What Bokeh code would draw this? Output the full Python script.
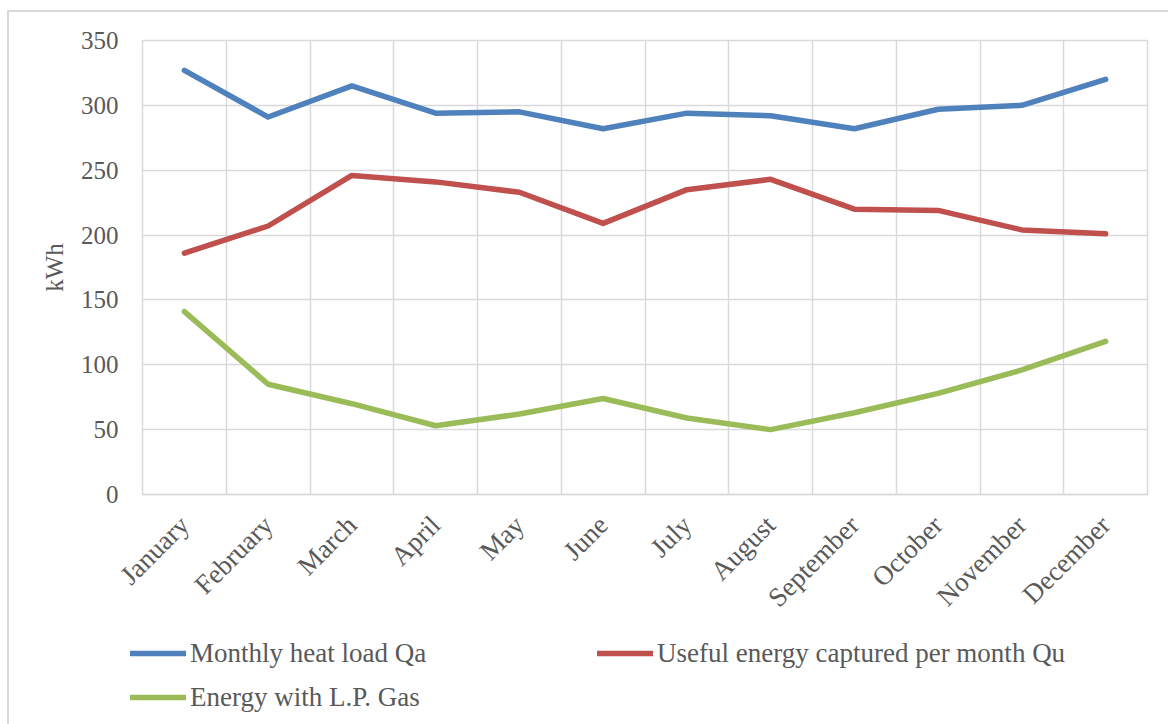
import numpy as np
from bokeh.plotting import figure
from bokeh.layouts import column
from bokeh.models import (Range1d, FixedTicker, Legend, LegendItem, ColumnDataSource)
from bokeh.embed import file_html
from bokeh.resources import INLINE

months = ["January", "February", "March", "April", "May", "June", "July",
          "August", "September", "October", "November", "December"]
heat_load_qa = [327, 291, 315, 294, 295, 282, 294, 292, 282, 297, 300, 320]
useful_energy_qu = [186, 207, 246, 241, 233, 209, 235, 243, 220, 219, 204, 201]
lp_gas_energy = [141, 85, 70, 53, 62, 74, 59, 50, 63, 78, 96, 118]
y_ticks = [0, 50, 100, 150, 200, 250, 300, 350]

series_names = ["Monthly heat load Qa", "Useful energy captured per month Qu", "Energy with L.P. Gas"]
colors = ["#4F81BD", "#C0504D", "#9BBB59"]

FONT = "Liberation Serif"
TXT = "#595959"
GRID = "#D9D9D9"

OX, OY = 9, 12  # canvas offset produced by margin + border
W = 1168 - OX
MAIN_H = 616

xc = np.arange(len(months)) + 0.5
src = ColumnDataSource(dict(x=xc, qa=heat_load_qa, qu=useful_energy_qu, gas=lp_gas_energy))

p = figure(width=W, height=MAIN_H, output_backend="svg", toolbar_location=None,
           x_range=Range1d(0, len(months)), y_range=Range1d(0, 350),
           min_border_left=142 - OX, min_border_right=21, min_border_top=40 - OY,
           min_border_bottom=MAIN_H - (40 - OY) - 454)
p.background_fill_color = "white"
p.border_fill_color = "white"
p.outline_line_color = GRID
p.outline_line_width = 1.5

# axes
p.xaxis.ticker = FixedTicker(ticks=list(xc))
p.xaxis.major_label_overrides = {float(v): m for v, m in zip(xc, months)}
p.xaxis.major_label_orientation = np.pi / 4
p.xaxis.major_tick_line_color = None
p.xaxis.minor_tick_line_color = None
p.xaxis.axis_line_color = GRID
p.xaxis.axis_line_width = 1.5
p.xaxis.major_label_text_font = FONT
p.xaxis.major_label_text_font_size = "27px"
p.xaxis.major_label_text_color = TXT
p.xaxis.major_label_standoff = 20

p.yaxis.ticker = FixedTicker(ticks=y_ticks)
p.yaxis.major_tick_line_color = None
p.yaxis.minor_tick_line_color = None
p.yaxis.axis_line_color = None
p.yaxis.major_label_text_font = FONT
p.yaxis.major_label_text_font_size = "25px"
p.yaxis.major_label_text_color = TXT
p.yaxis.major_label_standoff = 18
p.yaxis.axis_label = "kWh"
p.yaxis.axis_label_text_font = FONT
p.yaxis.axis_label_text_font_style = "normal"
p.yaxis.axis_label_text_font_size = "25px"
p.yaxis.axis_label_text_color = TXT
p.yaxis.axis_label_standoff = 10

p.xgrid.ticker = FixedTicker(ticks=list(range(len(months) + 1)))
p.xgrid.grid_line_color = GRID
p.xgrid.grid_line_width = 1.5
p.ygrid.ticker = FixedTicker(ticks=y_ticks)
p.ygrid.grid_line_color = GRID
p.ygrid.grid_line_width = 1.5

line_kw = dict(line_width=5.5, line_join="round", line_cap="round")
for col, c in zip(["qa", "qu", "gas"], colors):
    p.line("x", col, source=src, line_color=c, **line_kw)

# legend strip below the chart (its own canvas so the legend is not clipped);
# its renderers reuse the data but lie outside this strip's visible range
LEG_H = 724 - OY - MAIN_H
pl = figure(width=W, height=LEG_H, output_backend="svg", toolbar_location=None,
            x_range=Range1d(0, len(months)), y_range=Range1d(1000, 1001),
            x_axis_type=None, y_axis_type=None,
            min_border=0, min_border_left=0, min_border_right=0,
            min_border_top=0, min_border_bottom=0)
pl.styles = {"margin-left": "-12px"}
pl.outline_line_color = None
pl.xgrid.visible = False
pl.ygrid.visible = False
pl.background_fill_alpha = 0
pl.border_fill_alpha = 0
leg_renderers = [pl.line("x", col, source=src, line_color=c, **line_kw)
                 for col, c in zip(["qa", "qu", "gas"], colors)]

# column-major fill: [blue, green] in column 1, [red] in column 2
order = [0, 2, 1]
items = [LegendItem(label=series_names[i], renderers=[leg_renderers[i]]) for i in order]
legend = Legend(items=items, ncols=2, location=(0, 7),
                glyph_width=56, glyph_height=20, label_standoff=4,
                label_width=403, label_height=40, spacing=4,
                padding=0, margin=0, border_line_color=None,
                background_fill_alpha=0,
                label_text_font=FONT, label_text_font_size="27px", label_text_color=TXT)
pl.add_layout(legend, "center")

layout = column(p, pl, spacing=0,
                styles={"margin-left": "7px", "margin-top": "10px",
                        "border-left": "2px solid #D9D9D9", "border-top": "2px solid #D9D9D9"})

open("out.html", "w").write(file_html(layout, INLINE))
